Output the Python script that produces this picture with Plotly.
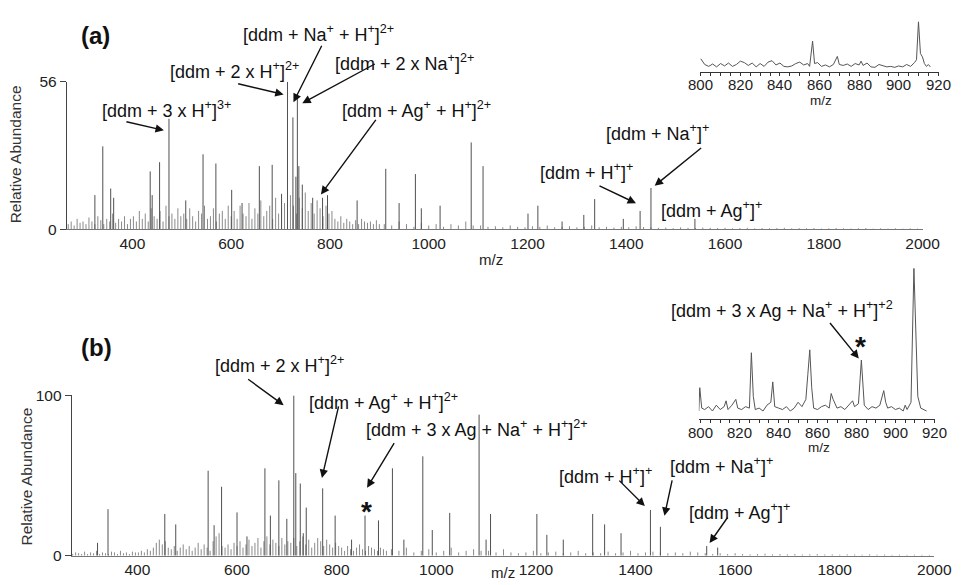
import plotly.graph_objects as go

W, H = 971, 585
FONT = "Liberation Sans, Arial, sans-serif"

# ---------------- Panel (a) main spectrum ----------------
a_peak_mz = [324, 340, 356, 362, 436, 440, 455, 474, 508, 543, 569, 601, 622, 657, 683, 702,
             714, 725, 731, 734, 737, 744, 765, 785, 795, 855, 913, 940, 973, 985, 1023,
             1086, 1110, 1201, 1221, 1270, 1314, 1336, 1394, 1428, 1450, 1539]
a_peak_int = [13, 31.5, 15.5, 12, 22, 13, 25.5, 42, 11, 28.5, 25, 15, 10, 24, 24.5, 13.5,
              56, 42.5, 20, 50, 24, 17, 12, 12, 13, 11, 23, 10, 21, 8, 9,
              33, 24, 6, 9, 3, 5.5, 11.5, 4, 7, 15.7, 4]

# baseline "grass" (heights), fine grid then coarse grid
a_noise1_start, a_noise1_step = 270, 6
a_noise1 = [2, 3, 1.5, 4, 2.5, 3, 2, 4.5, 3, 2, 5, 3.5, 2, 4, 3, 6, 2.5, 4, 3, 5, 2, 4,
            5, 3, 7, 4, 6, 3, 8, 5, 4, 7, 3, 9, 5, 6, 4, 8, 5,
            6, 4, 8, 5, 3, 7, 6, 9, 4, 5, 8, 3, 6, 7, 4, 9, 5,
            7, 4, 9, 6, 5, 10, 4, 8, 6, 11, 5, 7, 9, 4, 12, 6, 8,
            10, 7, 13, 9, 6, 12, 8, 14, 7, 10, 6, 11, 8, 5, 9, 6, 7,
            4, 3, 5, 2.5, 4, 3, 2, 3.5, 2, 4, 3, 2.5, 3, 2, 3.5, 2]
a_noise2_start, a_noise2_step = 910, 15
a_noise2 = [2, 1.5, 3, 2, 1, 2.5, 1.5, 2, 1, 2, 1.5, 3, 1.5,
            1.5, 1, 1.2, 0.8, 1.5, 1, 0.8, 1.2, 1, 1.5, 0.8, 1, 1.2, 0.8, 1, 1.5, 0.8, 1, 0.7, 1, 0.8, 1.2, 0.9,
            0.8, 0.6, 0.7, 0.5, 0.8, 0.6, 0.5, 0.7, 0.6, 0.5, 0.6, 0.4, 0.5, 0.6, 0.4, 0.5, 0.4, 0.5, 0.6,
            0.4, 0.5, 0.4, 0.5, 0.3, 0.4, 0.5, 0.4, 0.3, 0.4, 0.5, 0.3, 0.4, 0.3, 0.4, 0.3, 0.4, 0.3]

# ---------------- Panel (b) main spectrum ----------------
b_peak_mz = [320, 341, 455, 477, 542, 554, 569, 600, 620, 656, 667, 684, 700, 714, 718, 727,
             733, 739, 772, 797, 830, 857, 884, 912, 935, 973, 992, 1027, 1086, 1100, 1109,
             1202, 1222, 1255, 1314, 1338, 1371, 1430, 1450, 1543, 1565]
b_peak_int = [8, 29, 26, 19.5, 53, 19, 43, 27, 12, 54.5, 25, 47, 23, 100, 51.5, 45,
              14, 30, 42, 25, 10, 25, 22, 54.5, 10, 62, 16, 26.7, 88, 10, 26,
              26, 13, 10, 26, 19.5, 14, 28.5, 18, 6, 5]

b_noise1_start, b_noise1_step = 270, 6
b_noise1 = [1, 2, 1.5, 1, 2.5, 1, 2, 1.5, 3, 1, 2, 1.5, 1, 2.5, 2, 1, 3, 1.5, 2, 1, 2.5, 2,
            2, 3, 2, 4, 3, 5, 8, 10, 7, 9, 5, 4, 6, 3, 5, 7, 4,
            6, 3, 5, 8, 4, 7, 5, 3, 9, 12, 14, 6, 5, 7, 4, 8, 6,
            9, 5, 7, 10, 6, 8, 11, 5, 9, 12, 7, 10, 8, 6, 11, 7, 9,
            8, 11, 6, 9, 12, 7, 10, 5, 8, 11, 9, 6, 10, 7, 5, 8, 6,
            5, 3, 6, 4, 3, 5, 7, 4, 3, 6, 5, 4, 3, 5, 4, 3]
b_noise2_start, b_noise2_step = 910, 15
b_noise2 = [4, 3, 5, 2, 3, 4, 2, 3, 5, 2, 3, 4, 3,
            3, 2, 4, 2, 1.5, 2, 3, 1.5, 2, 2.5, 1.5, 2, 3, 1.5, 2, 1.5, 2.5, 1.5, 2, 3, 1.5, 2, 2.5,
            2, 1.5, 2, 1.5, 2.5, 2, 1.5, 1, 1.5, 1, 1.5, 1, 0.8, 1, 1.2, 0.8, 1, 0.8, 1,
            0.7, 0.8, 1, 0.7, 0.8, 0.6, 0.8, 0.7, 0.6, 0.8, 0.6, 0.7, 0.5, 0.6, 0.5, 0.6, 0.5, 0.5]

# ---------------- Insets (800-920 zoom) ----------------
ia_mz = [800, 802, 804, 806, 808, 810, 812, 814, 816, 818, 820, 822, 824, 826, 828, 830, 832, 834,
         836, 838, 840, 842, 844, 846, 848, 850, 852, 854, 855, 856.5, 857.5, 859, 861, 863, 865,
         867, 869, 870, 872, 874, 876, 878, 880, 881, 882, 884, 886, 888, 890, 892, 894, 896, 898,
         900, 902, 904, 906, 908, 909, 910, 911, 912, 913, 914, 915, 916]
ia_int = [22, 10, 6, 11, 5, 12, 7, 13, 6, 10, 17, 14, 8, 13, 5, 12, 6, 15,
          18, 9, 13, 6, 5, 7, 12, 15, 9, 12, 6, 59, 12, 14, 6, 9, 5,
          10, 27, 10, 8, 11, 6, 12, 9, 17, 8, 13, 5, 4, 10, 8, 5, 6, 4,
          7, 5, 10, 6, 14, 20, 100, 33, 26, 12, 6, 10, 5]

ib_mz = [799, 799.5, 800.5, 802, 804, 806, 808, 810, 812, 813, 814, 816, 818, 819, 821, 823, 825,
         826, 827, 828, 830, 832, 834, 836, 837, 838, 840, 842, 844, 846, 848, 850, 852, 854, 855,
         856, 857, 858, 860, 862, 864, 866, 867, 868, 870, 872, 874, 876, 878, 879, 881, 882.5,
         884, 886, 888, 890, 892, 894, 895, 896, 898, 900, 902, 904, 905, 906, 908, 909.5, 910.5,
         911.5, 913, 915, 916]
ib_int = [2, 18, 4, 3, 5, 2, 6, 3, 5, 9, 3, 6, 10, 4, 3, 5, 4,
          42, 12, 3, 4, 2, 6, 8, 22, 5, 4, 3, 5, 2, 4, 8, 5, 10, 27,
          44, 18, 4, 3, 5, 6, 4, 14, 10, 4, 5, 3, 6, 9, 5, 7, 37,
          6, 3, 5, 4, 6, 16, 8, 4, 5, 3, 4, 2, 6, 3, 8, 100, 51,
          12, 4, 3, 2]

main_ticks = [400, 600, 800, 1000, 1200, 1400, 1600, 1800, 2000]
inset_ticks = [800, 820, 840, 860, 880, 900, 920]


def sticks(mz, inten):
    xs, ys = [], []
    for m, v in zip(mz, inten):
        xs += [m, m, None]
        ys += [0, v, None]
    return xs, ys


def grid(start, step, vals):
    return [start + i * step for i in range(len(vals))]


def P(px, py):
    return px / W, 1 - py / H


fig = go.Figure()

PEAK = "#505050"
NOISE = "#8a8a8a"

# panel a
for mz, it, col in [(grid(a_noise1_start, a_noise1_step, a_noise1), a_noise1, NOISE),
                    (grid(a_noise2_start, a_noise2_step, a_noise2), a_noise2, NOISE),
                    (a_peak_mz, a_peak_int, PEAK)]:
    xs, ys = sticks(mz, it)
    fig.add_trace(go.Scatter(x=xs, y=ys, mode="lines", line=dict(color=col, width=1),
                             xaxis="x", yaxis="y", hoverinfo="skip", showlegend=False))
# panel b
for mz, it, col in [(grid(b_noise1_start, b_noise1_step, b_noise1), b_noise1, NOISE),
                    (grid(b_noise2_start, b_noise2_step, b_noise2), b_noise2, NOISE),
                    (b_peak_mz, b_peak_int, PEAK)]:
    xs, ys = sticks(mz, it)
    fig.add_trace(go.Scatter(x=xs, y=ys, mode="lines", line=dict(color=col, width=1),
                             xaxis="x2", yaxis="y2", hoverinfo="skip", showlegend=False))
# insets
fig.add_trace(go.Scatter(x=ia_mz, y=ia_int, mode="lines", line=dict(color="#555", width=1),
                         xaxis="x3", yaxis="y3", hoverinfo="skip", showlegend=False))
fig.add_trace(go.Scatter(x=ib_mz, y=ib_int, mode="lines", line=dict(color="#555", width=1),
                         xaxis="x4", yaxis="y4", hoverinfo="skip", showlegend=False))

tickfont = dict(family=FONT, size=15.5, color="#222")
itickfont = dict(family=FONT, size=15, color="#222")

common_x = dict(showgrid=False, zeroline=False, showline=True, linecolor="#777", linewidth=1,
                ticks="", tickfont=tickfont, tickvals=main_ticks)
common_y = dict(showgrid=False, zeroline=False, showline=True, linecolor="#444", linewidth=1,
                ticks="outside", ticklen=6, tickcolor="#444", tickfont=tickfont)
inset_x = dict(showgrid=False, zeroline=False, showline=True, linecolor="#333", linewidth=1,
               ticks="outside", ticklen=3, tickcolor="#333", tickvals=inset_ticks,
               showticklabels=False,
               minor=dict(dtick=5, tick0=800, ticks="outside", ticklen=3, tickcolor="#333"))

fig.update_layout(
    width=W, height=H, margin=dict(l=0, r=0, t=0, b=0),
    paper_bgcolor="white", plot_bgcolor="white",
    xaxis=dict(domain=[68 / W, 940 / W], range=[267, 2000], anchor="y", **common_x),
    yaxis=dict(domain=[1 - 227 / H, 1 - 75 / H], range=[0, 56], tickvals=[0, 56], anchor="x", **common_y),
    xaxis2=dict(domain=[73 / W, 952 / W], range=[268, 2000], anchor="y2", **common_x),
    yaxis2=dict(domain=[1 - 563 / H, 1 - 398 / H], range=[0, 100], tickvals=[0, 100], anchor="x2", **common_y),
    xaxis3=dict(domain=[713 / W, 957 / W], range=[799.5, 920.5], anchor="y3", **inset_x),
    yaxis3=dict(domain=[1 - 65 / H, 1 - 13 / H], range=[-6, 100], visible=False, anchor="x3"),
    xaxis4=dict(domain=[712 / W, 953 / W], range=[799, 920.5], anchor="y4", **inset_x),
    yaxis4=dict(domain=[1 - 422 / H, 1 - 267 / H], range=[-3.3, 100], visible=False, anchor="x4"),
)

ann = []


def text(s, px, py, size=18, bold=False, angle=0, color="#111"):
    x, y = P(px, py)
    ann.append(dict(text=("<b>%s</b>" % s) if bold else s, x=x, y=y, xref="paper", yref="paper",
                    xanchor="center", yanchor="middle", showarrow=False, textangle=angle,
                    font=dict(family=FONT, size=size, color=color)))


def arrow(tx, ty, hx, hy):
    x, y = P(hx, hy)
    ann.append(dict(text="", x=x, y=y, ax=tx - hx, ay=ty - hy, xref="paper", yref="paper",
                    showarrow=True, arrowhead=2,
                    arrowsize=1.2, arrowwidth=1.4, arrowcolor="#111"))


def inset_labels(xref, py):
    # tick labels of an inset, placed at the axis' own tick values
    for t in inset_ticks:
        ann.append(dict(text=str(t), x=t, y=1 - py / H, xref=xref, yref="paper",
                        xanchor="center", yanchor="middle", showarrow=False,
                        font=itickfont))


S = "<sup>+</sup>"
# panel a texts
text("(a)", 97, 27, size=24, bold=True)
text("[ddm + Na" + S + " + H" + S + "]<sup>2+</sup>", 325, 25)
text("[ddm + 2 x Na" + S + "]<sup>2+</sup>", 412, 55)
text("[ddm + 2 x H" + S + "]<sup>2+</sup>", 239, 63)
text("[ddm + 3 x H" + S + "]<sup>3+</sup>", 170, 103)
text("[ddm + Ag" + S + " + H" + S + "]<sup>2+</sup>", 424, 103)
text("[ddm + Na" + S + "]" + S, 670, 127)
text("[ddm + H" + S + "]" + S, 598, 167)
text("[ddm + Ag" + S + "]" + S, 725, 206)
text("Relative Abundance", 16, 150, size=15.5, angle=-90, color="#333")
text("m/z", 500, 258, size=15, color="#222")
inset_labels("x3", 78)
text("m/z", 837, 94, size=13.5, color="#222")
# panel a arrows
arrow(128, 116, 167, 125)
arrow(242, 77, 289, 88)
arrow(328, 38, 299, 96)
arrow(382, 57, 308, 97)
arrow(383, 115, 327, 191)
arrow(715, 143, 667, 182)
arrow(610, 182, 648, 200)

# panel b texts
text("(b)", 98, 349, size=24, bold=True)
text("[ddm + 2 x H" + S + "]<sup>2+</sup>", 285, 366)
text("[ddm + Ag" + S + " + H" + S + "]<sup>2+</sup>", 391, 404)
text("[ddm + 3 x Ag + Na" + S + " + H" + S + "]<sup>2+</sup>", 486, 432)
text("*", 373, 518, size=28, bold=True)
text("[ddm + H" + S + "]" + S, 617, 480)
text("[ddm + Na" + S + "]" + S, 735, 470)
text("[ddm + Ag" + S + "]" + S, 753, 518)
text("[ddm + 3 x Ag + Na" + S + " + H" + S + "]<sup>+2</sup>", 797, 309)
text("*", 877, 348, size=28, bold=True)
text("Relative Abundance", 27, 481, size=15.5, angle=-90, color="#333")
text("m/z", 512, 580, size=15, color="#222")
inset_labels("x4", 436)
text("m/z", 834, 452, size=13.5, color="#222")
# panel b arrows
arrow(252, 381, 289, 408)
arrow(345, 410, 328, 483)
arrow(402, 447, 374, 493)
arrow(630, 485, 657, 512)
arrow(685, 485, 677, 522)
arrow(742, 523, 723, 550)
arrow(845, 323, 875, 360)

fig.update_layout(annotations=ann)
fig.write_html("out.html")
